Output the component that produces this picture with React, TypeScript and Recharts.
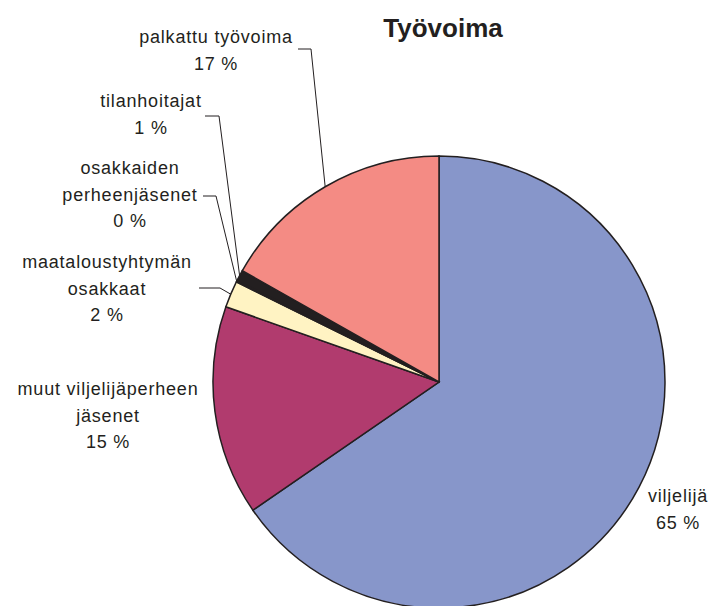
import React from "react";
import { PieChart, Pie, Cell } from "recharts";

// ---- data ----
const categories = [
  "viljelijä",
  "muut viljelijäperheen jäsenet",
  "maataloustyhtymän osakkaat",
  "osakkaiden perheenjäsenet",
  "tilanhoitajat",
  "palkattu työvoima",
];
const shares = [65.4, 15.0, 1.9, 0.1, 0.8, 16.8];
const labelNameLines = [
  ["viljelijä"],
  ["muut viljelijäperheen", "jäsenet"],
  ["maataloustyhtymän", "osakkaat"],
  ["osakkaiden", "perheenjäsenet"],
  ["tilanhoitajat"],
  ["palkattu työvoima"],
];
const title = "Työvoima";

// ---- style / layout ----
const colors = ["#8796CA", "#B13B6E", "#FFF3C3", "#FFFFFF", "#231F20", "#F48B84"];
const W = 712;
const H = 606;
const CX = 439;
const CY = 382;
const R = 226;
const FONT = "'Liberation Sans', Arial, sans-serif";
const LINE_H = 26.5;
// label layout relative to pie centre: text centre x, first baseline y, leader line start and elbow
const labelLayout = [
  { tx: 239, ty: 120, line: null },
  { tx: -331, ty: 13, line: null },
  { tx: -332, ty: -114, line: [-240, -94, -219, -94] },
  { tx: -309, ty: -208, line: [-236, -186, -223, -186] },
  { tx: -288, ty: -275, line: [-234, -266, -220, -266] },
  { tx: -223, ty: -339, line: [-141, -333, -128, -333] },
];

const data = categories.map((name, i) => ({ name, value: shares[i] }));

const RAD = Math.PI / 180;

const renderLabel = (props: any) => {
  const { cx, cy, midAngle, outerRadius, index } = props;
  const lay = labelLayout[index];
  const ex = cx + outerRadius * Math.cos(-midAngle * RAD);
  const ey = cy + outerRadius * Math.sin(-midAngle * RAD);
  const lines = [...labelNameLines[index], `${Math.round(shares[index])} %`];
  const tx = cx + lay.tx;
  const ty = cy + lay.ty;
  return (
    <g key={`lab-${index}`}>
      {lay.line && (
        <polyline
          points={`${cx + lay.line[0]},${cy + lay.line[1]} ${cx + lay.line[2]},${cy + lay.line[3]} ${ex},${ey}`}
          fill="none"
          stroke="#231F20"
          strokeWidth={1}
        />
      )}
      <text
        x={tx}
        y={ty}
        textAnchor="middle"
        fill="#231F20"
        fontFamily={FONT}
        fontSize={18}
        letterSpacing={0.8}
      >
        {lines.map((l, k) => (
          <tspan key={k} x={tx} y={ty + k * LINE_H}>
            {l}
          </tspan>
        ))}
      </text>
    </g>
  );
};

export default function App() {
  return (
    <div style={{ position: "absolute", left: 0, top: 0, width: W, height: H, background: "#fff" }}>
      <PieChart width={W} height={H} margin={{ top: 0, right: 0, bottom: 0, left: 0 }}>
        <Pie
          data={data}
          dataKey="value"
          nameKey="name"
          cx={CX}
          cy={CY}
          outerRadius={R}
          startAngle={90}
          endAngle={-270}
          stroke="#231F20"
          strokeWidth={1.5}
          label={renderLabel}
          labelLine={false}
          isAnimationActive={false}
        >
          {data.map((d, i) => (
            <Cell key={d.name} fill={colors[i]} />
          ))}
        </Pie>
      </PieChart>
      <svg
        width={W}
        height={60}
        style={{ position: "absolute", left: 0, top: 0, pointerEvents: "none" }}
      >
        <text
          x={443}
          y={37}
          textAnchor="middle"
          fontFamily={FONT}
          fontWeight="bold"
          fontSize={26}
          fill="#231F20"
        >
          {title}
        </text>
      </svg>
    </div>
  );
}
